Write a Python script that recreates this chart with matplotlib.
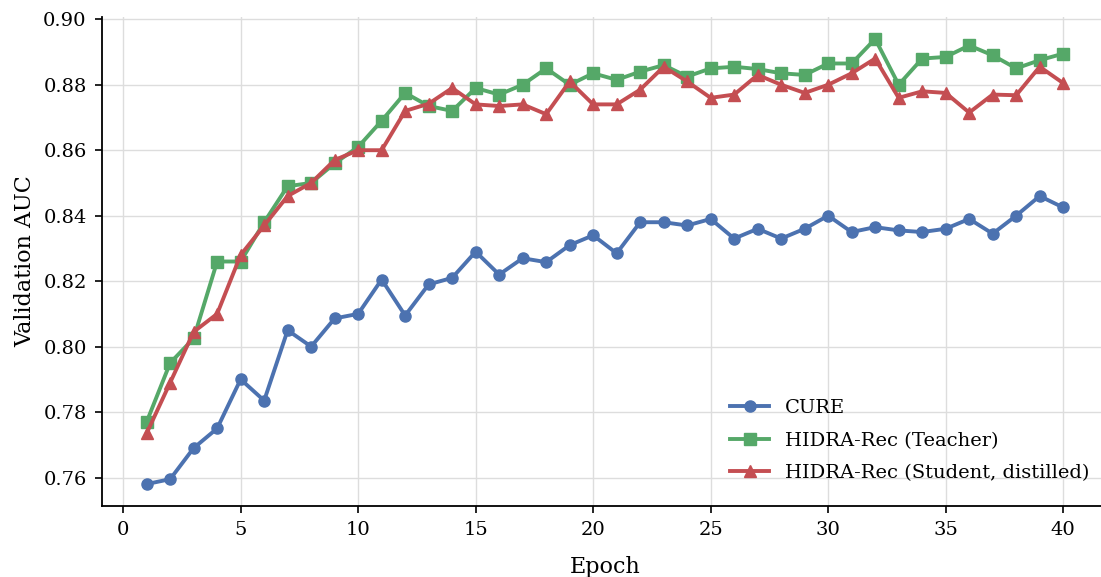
import matplotlib
matplotlib.use("Agg")
import matplotlib.pyplot as plt
import numpy as np

epochs = np.arange(1, 41)

cure = [0.758, 0.7595, 0.769, 0.775, 0.790, 0.7835, 0.805, 0.800, 0.8086, 0.810,
        0.8205, 0.8095, 0.819, 0.821, 0.829, 0.822, 0.827, 0.8258, 0.831, 0.834,
        0.8285, 0.838, 0.838, 0.837, 0.839, 0.833, 0.836, 0.833, 0.836, 0.840,
        0.835, 0.8365, 0.8355, 0.835, 0.836, 0.839, 0.8345, 0.840, 0.846, 0.8425]

teacher = [0.777, 0.795, 0.8025, 0.826, 0.826, 0.838, 0.849, 0.850, 0.856, 0.861,
           0.869, 0.8775, 0.8735, 0.872, 0.879, 0.877, 0.880, 0.885, 0.880, 0.8835,
           0.8815, 0.884, 0.886, 0.8825, 0.885, 0.8855, 0.8848, 0.8835, 0.883, 0.8865,
           0.8865, 0.894, 0.880, 0.888, 0.8885, 0.892, 0.889, 0.885, 0.8875, 0.8895]

student = [0.7735, 0.789, 0.8045, 0.810, 0.828, 0.837, 0.846, 0.850, 0.857, 0.860,
           0.860, 0.872, 0.8742, 0.879, 0.874, 0.8735, 0.874, 0.871, 0.881, 0.874,
           0.874, 0.8785, 0.8855, 0.881, 0.876, 0.877, 0.883, 0.880, 0.8775, 0.880,
           0.8835, 0.888, 0.876, 0.878, 0.8775, 0.8715, 0.877, 0.8768, 0.8855, 0.8805]

labels = ["CURE", "HIDRA-Rec (Teacher)", "HIDRA-Rec (Student, distilled)"]
colors = ["#4C72B0", "#55A868", "#C44E52"]
markers = ["o", "s", "^"]

plt.rcParams["font.family"] = ["DejaVu Serif"]

fig = plt.figure(figsize=(11.01, 5.77), dpi=100)
ax = fig.add_axes([102 / 1101, 71 / 577, 1007 / 1101, 489 / 577])

for y, lab, c, m in zip([cure, teacher, student], labels, colors, markers):
    ax.plot(epochs, y, color=c, marker=m, lw=2.8, markersize=8, label=lab)

ax.set_xlim(-0.9, 41.95)
ax.set_ylim(0.7513, 0.9007)
ax.set_xticks(np.arange(0, 41, 5))
ax.set_yticks(np.arange(0.76, 0.901, 0.02))
ax.set_yticklabels([f"{v:.2f}" for v in np.arange(0.76, 0.901, 0.02)])
ax.tick_params(labelsize=14, length=5, width=1.2, pad=6)
ax.grid(True, color="#dddddd", lw=1.0)
ax.set_axisbelow(True)
for s in ["top", "right"]:
    ax.spines[s].set_visible(False)
for s in ["left", "bottom"]:
    ax.spines[s].set_linewidth(1.3)

ax.set_xlabel("Epoch", fontsize=16, labelpad=12)
ax.set_ylabel("Validation AUC", fontsize=16, labelpad=5)

ax.legend(loc="lower right", bbox_to_anchor=(1097 / 1101, 87 / 577),
          bbox_transform=fig.transFigure, frameon=False, fontsize=14,
          borderaxespad=0, handlelength=2.0, labelspacing=0.75)

fig.savefig("out.png", dpi=100)
